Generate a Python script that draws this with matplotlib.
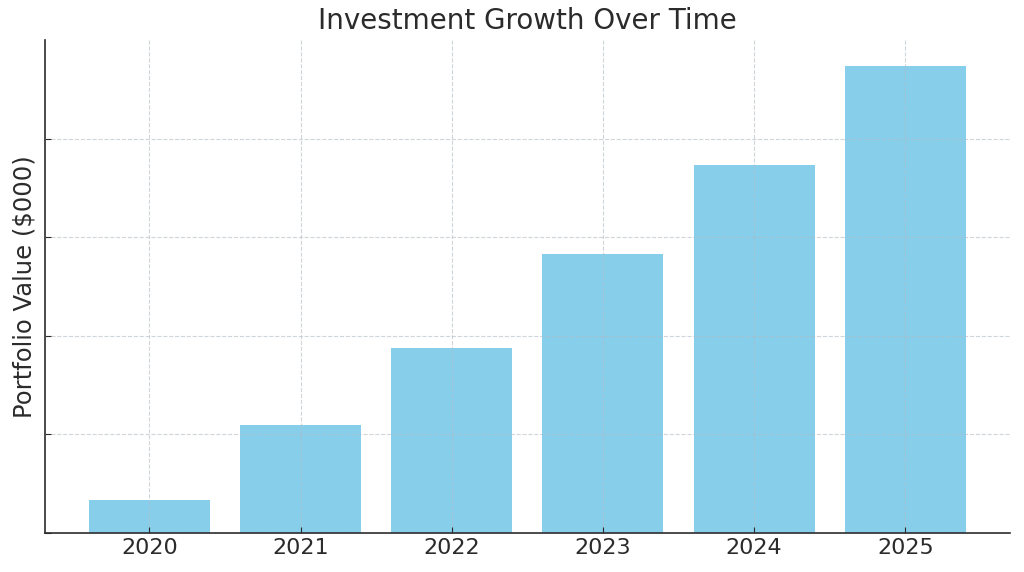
import matplotlib
matplotlib.use("Agg")
import matplotlib.pyplot as plt

years = ['2020', '2021', '2022', '2023', '2024', '2025']
portfolio_value = [6.7, 21.9, 37.5, 56.6, 74.6, 94.7]

fig = plt.figure(figsize=(10.24, 5.72), dpi=100)
ax = fig.add_axes([0.044, 0.068, 0.942, 0.862])

ax.bar(years, portfolio_value, width=0.8, color='skyblue', zorder=1)
ax.set_ylim(0, 100)
ax.set_yticks([0, 20, 40, 60, 80])
ax.set_yticklabels([])
ax.grid(True, linestyle='--', color='#b0bcc4', alpha=0.6, linewidth=0.8, zorder=2)
ax.set_axisbelow(False)

ax.set_title('Investment Growth Over Time', fontsize=20, color='#2b2b2b', pad=8)
ax.set_ylabel('Portfolio Value ($000)', fontsize=17.5, color='#2b2b2b', labelpad=3)
ax.tick_params(axis='x', labelsize=16, colors='#2b2b2b', direction='in', length=4)
ax.tick_params(axis='y', direction='in', length=4, colors='#2b2b2b')

for s in ['top', 'right']:
    ax.spines[s].set_visible(False)
for s in ['left', 'bottom']:
    ax.spines[s].set_color('#2b2b2b')
    ax.spines[s].set_linewidth(1.2)

fig.savefig('out.png', dpi=100)
